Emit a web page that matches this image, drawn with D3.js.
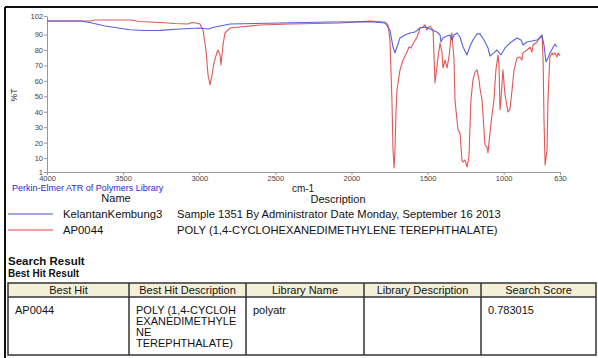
<!DOCTYPE html>
<html>
<head>
<meta charset="utf-8">
<script src="https://cdn.jsdelivr.net/npm/d3@7"></script>
<style>
  body { margin: 0; background: #fff; }
  text { font-family: "Liberation Sans", Arial, sans-serif; }
</style>
</head>
<body>
<div id="chart"></div>
<script>
// sample spectrum (blue)
const sampleWn = [4000,3783,3718,3619,3455,3356,3258,3127,2995,2942,2896,2798,2469,2141,1878,1780,1747,1727,1714,1701,
  1681,1648,1615,1583,1550,1517,1497,1471,1438,1418,1412,1399,1372,1353,1340,1326,1307,1287,1267,1241,
  1221,1202,1175,1156,1129,1103,1090,1064,1044,1018,991,959,913,886,873,847,814,781,761,748,
  735,722,709,696,663,650];
const sampleT = [98.8,98.8,97.8,95.5,93.1,92.6,92.7,93.6,94.2,93.6,94.9,96.8,97.5,98.1,98.3,97.5,92.9,81.9,78.1,81.9,
  87.8,89.7,91.0,91.6,94.2,94.9,94.2,92.9,91.6,89.7,85.2,87.8,89.1,89.7,86.5,89.7,91.0,88.4,81.9,76.8,
  82.6,86.5,90.4,90.4,86.5,81.3,76.1,78.1,80.0,76.8,81.3,84.5,87.8,86.5,83.2,85.2,85.8,86.5,87.8,89.1,
  83.2,72.2,74.8,78.1,83.9,81.9];

// library spectrum AP0044 (red)
const libWn = [4000,3718,3685,3455,3389,3258,3159,3074,3047,3021,2995,2975,2956,2942,2929,2916,2903,2883,2877,2864,
  2857,2844,2831,2798,2732,2601,2404,2075,1878,1780,1760,1747,1734,1727,1720,1714,1707,1701,1681,1661,
  1635,1622,1609,1596,1569,1550,1530,1517,1504,1497,1484,1464,1451,1431,1418,1405,1399,1385,1372,1359,
  1346,1340,1326,1320,1300,1287,1274,1267,1254,1241,1228,1215,1202,1188,1175,1162,1156,1142,1123,1110,
  1103,1090,1083,1064,1051,1037,1031,1024,1018,1005,991,972,959,945,932,913,893,880,873,847,
  827,814,807,781,761,748,741,735,728,715,709,702,696,682,676,663,650,643,630];
const libT = [98.8,98.8,99.4,99.4,98.4,97.8,97.1,96.8,97.8,97.5,96.8,92.9,80.0,63.8,57.4,63.8,71.6,78.7,80.0,76.8,
  70.3,83.2,91.0,94.2,94.9,96.2,96.8,97.5,98.8,98.1,96.2,86.5,47.7,15.3,3.7,15.3,41.2,54.1,67.1,73.5,
  78.7,81.9,81.3,83.9,88.4,94.2,94.9,96.2,92.9,94.2,95.5,92.9,58.7,75.5,84.5,78.1,68.4,73.5,68.4,75.5,
  88.4,91.0,73.5,47.7,28.2,26.3,8.8,7.5,8.8,4.3,10.8,47.7,60.6,65.8,67.1,60.6,55.4,47.7,18.5,17.2,
  13.4,26.3,32.8,47.7,67.1,76.8,70.3,41.2,47.7,67.1,50.9,39.9,41.2,54.1,67.1,74.8,75.5,73.5,78.1,80.0,
  81.9,78.7,83.2,85.2,88.4,89.7,73.5,34.7,5.6,15.3,47.7,63.8,75.5,78.1,76.8,78.1,75.5,78.1,76.2];

const xTicks = [4000, 3500, 3000, 2500, 2000, 1500, 1000, 630];
const yTicks = [102, 90, 80, 70, 60, 50, 40, 30, 20, 10, 1];

const legendNames = ["KelantanKembung3", "AP0044"];
const legendDescs = ["Sample 1351 By Administrator Date Monday, September 16 2013",
                     "POLY (1,4-CYCLOHEXANEDIMETHYLENE TEREPHTHALATE)"];
const seriesColors = ["#4450d8", "#dc4646"];

const tableHeaders = ["Best Hit", "Best Hit Description", "Library Name", "Library Description", "Search Score"];
const tableCells = [["AP0044"], ["POLY (1,4-CYCLOH", "EXANEDIMETHYLE", "NE", "TEREPHTHALATE)"], ["polyatr"], [""], ["0.783015"]];

const W = 598, H = 358;
const svg = d3.select("#chart").append("svg").attr("width", W).attr("height", H);

// page frame
svg.append("line").attr("x1", 5).attr("x2", W).attr("y1", 7).attr("y2", 7)
  .attr("stroke", "#111").attr("stroke-width", 2);
svg.append("line").attr("x1", 5).attr("x2", 5).attr("y1", 7).attr("y2", H)
  .attr("stroke", "#111").attr("stroke-width", 2);

let x = d3.scaleLinear().domain([4000, 630]).range([47, 560]);
let y = d3.scaleLinear().domain([1, 102]).range([172, 16]);

let gx = svg.append("g").attr("transform", "translate(0,172)")
  .call(d3.axisBottom(x).tickValues(xTicks).tickFormat(d3.format("d")).tickSize(3).tickPadding(1).tickSizeOuter(0));
let gy = svg.append("g").attr("transform", "translate(47,0)")
  .call(d3.axisLeft(y).tickValues(yTicks).tickSize(3).tickPadding(1).tickSizeOuter(0));
[gx, gy].forEach(g => {
  g.select(".domain").attr("stroke", "#999");
  g.selectAll(".tick line").attr("stroke", "#999");
  g.selectAll(".tick text").attr("fill", "#444").style("font-size", "7.5px")
    .style("font-family", "'Liberation Sans', Arial, sans-serif");
});

let line = d3.line().x(d => x(d[0])).y(d => y(d[1]));
let series = [d3.zip(sampleWn, sampleT), d3.zip(libWn, libT)];
// draw library first so the sample sits on top where they overlap
[1, 0].forEach(i => {
  svg.append("path").datum(series[i]).attr("d", line)
    .attr("fill", "none").attr("stroke", seriesColors[i])
    .attr("stroke-width", 1.1).attr("stroke-opacity", 0.9).attr("stroke-linejoin", "round");
});

svg.append("text").attr("transform", "translate(17,95) rotate(-90)")
  .attr("text-anchor", "middle").style("font-size", "8.5px").attr("fill", "#333").text("%T");
svg.append("text").attr("x", 303).attr("y", 192).attr("text-anchor", "middle")
  .style("font-size", "10px").attr("fill", "#222").text("cm-1");
svg.append("text").attr("x", 12).attr("y", 190.5)
  .style("font-size", "9px").attr("fill", "#2a2ac0").text("Perkin-Elmer ATR of Polymers Library");

// legend
svg.append("text").attr("x", 116).attr("y", 202).attr("text-anchor", "middle")
  .style("font-size", "11px").attr("fill", "#111").text("Name");
svg.append("text").attr("x", 338).attr("y", 203).attr("text-anchor", "middle")
  .style("font-size", "11px").attr("fill", "#111").text("Description");
legendNames.forEach((n, i) => {
  let ly = 214 + i * 16;
  svg.append("line").attr("x1", 8).attr("x2", 53).attr("y1", ly).attr("y2", ly)
    .attr("stroke", seriesColors[i]).attr("stroke-width", 1);
  svg.append("text").attr("x", 63).attr("y", ly + 4).style("font-size", "11.3px").attr("fill", "#111").text(n);
  svg.append("text").attr("x", 177).attr("y", ly + 4).style("font-size", "11.2px").attr("fill", "#111").text(legendDescs[i]);
});

svg.append("text").attr("x", 8).attr("y", 264.5).style("font-size", "11.5px").style("font-weight", "bold")
  .attr("fill", "#111").text("Search Result");
svg.append("text").attr("x", 8).attr("y", 276.5).style("font-size", "10px").style("font-weight", "bold")
  .attr("fill", "#111").text("Best Hit Result");

// result table
let colX = [8, 129, 246, 364, 481, 596];
let tTop = 283, hBot = 297, tBot = 355;
svg.append("rect").attr("x", colX[0]).attr("y", tTop).attr("width", colX[5] - colX[0]).attr("height", hBot - tTop)
  .attr("fill", "#f4f0d8");
svg.append("rect").attr("x", colX[0]).attr("y", tTop).attr("width", colX[5] - colX[0]).attr("height", tBot - tTop)
  .attr("fill", "none").attr("stroke", "#333").attr("stroke-width", 1.5);
svg.append("line").attr("x1", colX[0]).attr("x2", colX[5]).attr("y1", hBot).attr("y2", hBot)
  .attr("stroke", "#333").attr("stroke-width", 1.5);
colX.slice(1, 5).forEach(cx => {
  svg.append("line").attr("x1", cx).attr("x2", cx).attr("y1", tTop).attr("y2", tBot)
    .attr("stroke", "#333").attr("stroke-width", 1.5);
});
tableHeaders.forEach((h, i) => {
  svg.append("text").attr("x", (colX[i] + colX[i + 1]) / 2).attr("y", hBot - 3)
    .attr("text-anchor", "middle").style("font-size", "11px").attr("fill", "#111").text(h);
});
tableCells.forEach((lines, i) => {
  lines.forEach((t, j) => {
    svg.append("text").attr("x", colX[i] + 7).attr("y", 314 + j * 11)
      .style("font-size", "11px").attr("fill", "#111").text(t);
  });
});
</script>
</body>
</html>
